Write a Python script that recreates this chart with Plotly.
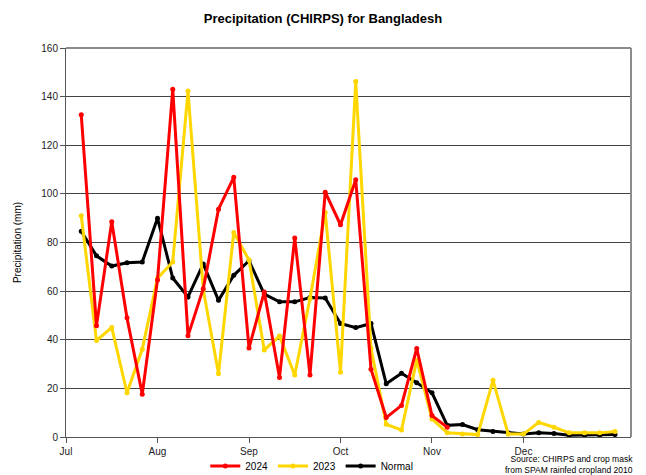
import plotly.graph_objects as go

# ---- data (pentad values, mm) ----
month_labels = ["Jul", "Aug", "Sep", "Oct", "Nov", "Dec"]
month_starts = [0, 6, 12, 18, 24, 30]

y2024 = [132.5, 45.8, 88.5, 49.0, 17.6, 64.6, 143.0, 41.6, 61.0, 93.7, 106.8, 36.6,
         59.6, 24.5, 81.9, 25.5, 100.7, 87.3, 105.8, 27.9, 8.0, 13.0, 36.4, 8.8, 4.0]
y2023 = [91.0, 39.7, 45.0, 18.2, 36.1, 65.3, 72.0, 142.3, 60.7, 26.0, 84.1, 72.8,
         35.8, 41.5, 25.5, 57.0, 92.3, 26.6, 146.2, 36.4, 5.2, 2.9, 31.6, 7.4, 1.7,
         1.2, 1.0, 23.3, 1.2, 1.2, 6.0, 4.0, 1.7, 1.7, 1.7, 2.3]
normal = [84.6, 74.5, 70.3, 71.7, 72.0, 90.0, 65.4, 57.6, 71.2, 56.2, 66.5, 72.5,
          58.8, 55.6, 55.6, 57.4, 57.2, 46.7, 45.0, 46.7, 21.9, 26.2, 22.3, 18.2, 4.8,
          5.1, 3.0, 2.3, 1.7, 1.2, 1.7, 1.4, 0.7, 0.7, 0.7, 1.0]

x2024 = list(range(1, len(y2024) + 1))
x2023 = list(range(1, len(y2023) + 1))
xnorm = list(range(1, len(normal) + 1))

fig = go.Figure()
fig.add_trace(go.Scatter(x=xnorm, y=normal, name="Normal", mode="lines+markers",
                         line=dict(color="#000000", width=3), marker=dict(size=5, color="#000000"),
                         legendrank=3))
fig.add_trace(go.Scatter(x=x2023, y=y2023, name="2023", mode="lines+markers",
                         line=dict(color="#FFD700", width=3), marker=dict(size=5, color="#FFD700"),
                         legendrank=2))
fig.add_trace(go.Scatter(x=x2024, y=y2024, name="2024", mode="lines+markers",
                         line=dict(color="#FF0000", width=3), marker=dict(size=5, color="#FF0000"),
                         legendrank=1))

fig.update_layout(
    width=646, height=475,
    margin=dict(l=66, r=15, t=48, b=38, autoexpand=False),
    paper_bgcolor="white", plot_bgcolor="white",
    font=dict(family="Liberation Sans, Arial, sans-serif", size=10, color="#222222"),
    title=dict(text="<b>Precipitation (CHIRPS) for Bangladesh</b>", x=0.5, xanchor="center",
               y=1 - 18 / 475, yanchor="middle", yref="container",
               font=dict(size=13, color="#000000")),
    legend=dict(orientation="h", x=0.435, xanchor="center", y=-0.0745, yanchor="middle",
                itemwidth=30, font=dict(size=10, color="#000000"), bgcolor="rgba(0,0,0,0)"),
    hovermode=False,
)

fig.update_xaxes(range=[0, 37.05], tickmode="array", tickvals=month_starts, ticktext=month_labels,
                 showgrid=False, zeroline=False, showline=True, linecolor="#555555", linewidth=1,
                 ticks="outside", ticklen=5, tickcolor="#555555", tickfont=dict(size=10, color="#222222"),
                 automargin=False)
fig.update_yaxes(range=[0, 160], dtick=20, showgrid=True, gridcolor="#444444", gridwidth=1,
                 zeroline=False, showline=True, linecolor="#555555", linewidth=1,
                 ticks="outside", ticklen=5, tickcolor="#555555", tickfont=dict(size=10, color="#222222"),
                 title=dict(text="Precipitation (mm)", font=dict(size=10, color="#000000"), standoff=17),
                 automargin=False)

# outer frame (top and right edges grey)
fig.add_shape(type="line", xref="paper", yref="paper", x0=0, x1=1, y0=1, y1=1,
              line=dict(color="#8c8c8c", width=2), layer="above")
fig.add_shape(type="line", xref="paper", yref="paper", x0=1, x1=1, y0=0, y1=1,
              line=dict(color="#8c8c8c", width=2), layer="above")

fig.add_annotation(text="Source: CHIRPS and crop mask<br>from SPAM rainfed cropland 2010",
                   xref="paper", yref="paper", x=1.007, y=-0.071, xanchor="right", yanchor="middle",
                   align="right", showarrow=False, font=dict(size=8.5, color="#000000"))

fig.write_html("out.html", post_script="document.body.style.margin='0';",
               config={"displayModeBar": False})
